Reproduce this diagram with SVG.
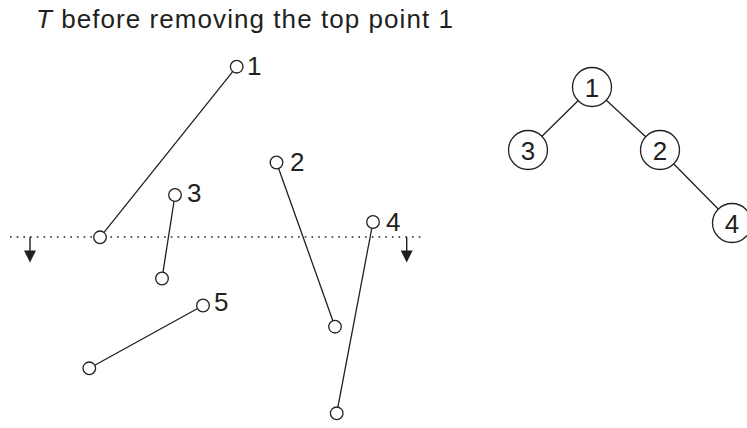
<svg xmlns="http://www.w3.org/2000/svg" width="747" height="428" viewBox="0 0 747 428">
  <style>
    .ln { stroke: #231f20; stroke-width: 1.3; fill: none; }
    .pt { stroke: #231f20; stroke-width: 1.3; fill: #ffffff; }
    .nd { stroke: #231f20; stroke-width: 1.3; fill: #ffffff; }
    .lbl { font-family: "Liberation Sans", Arial, sans-serif; font-size: 26px; fill: #231f20; }
    .ctr { text-anchor: middle; }
    .sweep { stroke: #231f20; stroke-width: 1.6; stroke-dasharray: 1.6 5.1; fill: none; }
  </style>
  <rect width="747" height="428" fill="#ffffff"/>

  <!-- title -->
  <text class="lbl" x="36" y="28" textLength="417" lengthAdjust="spacing"><tspan font-style="italic">T</tspan> before removing the top point 1</text>

  <!-- sweep line and its direction arrows -->
  <g id="sweep-line">
    <line class="sweep" x1="10" y1="237" x2="425" y2="237"/>
    <path d="M30,237 V251" stroke="#231f20" stroke-width="1.4"/>
    <path d="M24,250.5 H36 L30,262.5 Z" fill="#231f20"/>
    <path d="M406.7,237 V251" stroke="#231f20" stroke-width="1.4"/>
    <path d="M400.7,250.5 H412.7 L406.7,262.5 Z" fill="#231f20"/>
  </g>

  <!-- segments -->
  <g id="segment-1">
    <line class="ln" x1="236.7" y1="66.7" x2="100" y2="237.3"/>
    <circle class="pt" cx="236.7" cy="66.7" r="6.3"/>
    <circle class="pt" cx="100" cy="237.3" r="6.3"/>
    <text class="lbl" x="247" y="75">1</text>
  </g>
  <g id="segment-3">
    <line class="ln" x1="175" y1="195" x2="162" y2="278.5"/>
    <circle class="pt" cx="175" cy="195" r="6.3"/>
    <circle class="pt" cx="162" cy="278.5" r="6.3"/>
    <text class="lbl" x="187" y="202">3</text>
  </g>
  <g id="segment-2">
    <line class="ln" x1="276.5" y1="162.5" x2="335" y2="326.7"/>
    <circle class="pt" cx="276.5" cy="162.5" r="6.3"/>
    <circle class="pt" cx="335" cy="326.7" r="6.3"/>
    <text class="lbl" x="290" y="171">2</text>
  </g>
  <g id="segment-4">
    <line class="ln" x1="373" y1="222" x2="336.7" y2="413.3"/>
    <circle class="pt" cx="373" cy="222" r="6.3"/>
    <circle class="pt" cx="336.7" cy="413.3" r="6.3"/>
    <text class="lbl" x="386" y="231">4</text>
  </g>
  <g id="segment-5">
    <line class="ln" x1="203" y1="305.5" x2="89.3" y2="368.3"/>
    <circle class="pt" cx="203" cy="305.5" r="6.3"/>
    <circle class="pt" cx="89.3" cy="368.3" r="6.3"/>
    <text class="lbl" x="214" y="311">5</text>
  </g>

  <!-- tree edges -->
  <g id="connectors">
    <line class="ln" x1="592" y1="87" x2="528" y2="150"/>
    <line class="ln" x1="592" y1="87" x2="660" y2="150"/>
    <line class="ln" x1="660" y1="150" x2="732" y2="223"/>
  </g>

  <!-- tree nodes -->
  <g id="node-1">
    <circle class="nd" cx="592" cy="87" r="19.5"/>
    <text class="lbl ctr" x="592" y="96.5">1</text>
  </g>
  <g id="node-3">
    <circle class="nd" cx="528" cy="150" r="19.5"/>
    <text class="lbl ctr" x="528" y="159.5">3</text>
  </g>
  <g id="node-2">
    <circle class="nd" cx="660" cy="150" r="19.5"/>
    <text class="lbl ctr" x="660" y="159.5">2</text>
  </g>
  <g id="node-4">
    <circle class="nd" cx="732" cy="223" r="19.5"/>
    <text class="lbl ctr" x="732" y="232.5">4</text>
  </g>
</svg>
